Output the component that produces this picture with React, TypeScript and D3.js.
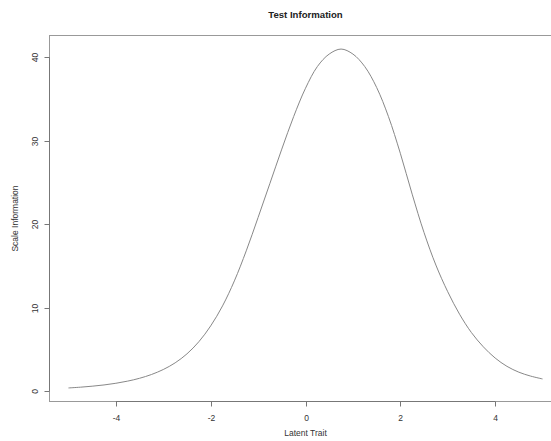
import * as d3 from "d3";

// latent trait grid and test information
const theta = [
  -5, -4.75, -4.5, -4.25, -4, -3.75, -3.5, -3.25, -3, -2.75, -2.5, -2.25, -2,
  -1.75, -1.5, -1.25, -1, -0.75, -0.5, -0.25, 0, 0.25, 0.5, 0.75, 1, 1.25, 1.5,
  1.75, 2, 2.25, 2.5, 2.75, 3, 3.25, 3.5, 3.75, 4, 4.25, 4.5, 4.75, 5,
];
const info = [
  0.36, 0.45, 0.57, 0.72, 0.92, 1.18, 1.52, 1.97, 2.57, 3.37, 4.45, 5.9, 7.8,
  10.2, 13.2, 16.8, 20.8, 24.9, 29.0, 32.9, 36.3, 38.9, 40.4, 41.0, 40.4, 38.9,
  36.4, 32.9, 28.5, 23.6, 19.0, 15.1, 11.9, 9.2, 7.0, 5.3, 3.95, 2.95, 2.25,
  1.78, 1.44,
];
const xTicks = [-4, -2, 0, 2, 4];
const yTicks = [0, 10, 20, 30, 40];

export default function App() {
  const width = 551;
  const height = 441;
  const left = 49.5, right = 561.5, top = 35.5, bottom = 401.5;
  const font = "'Liberation Sans', Arial, Helvetica, sans-serif";

  // R style 4% padding on both axes
  const [x0, x1] = d3.extent(theta) as [number, number];
  const [y0, y1] = d3.extent(info) as [number, number];
  const px = (x1 - x0) * 0.04;
  const py = (y1 - y0) * 0.04;
  const x = d3.scaleLinear([x0 - px, x1 + px], [left, right]);
  const y = d3.scaleLinear([y0 - py, y1 + py], [bottom, top]);

  const line = d3
    .line<number>()
    .x((_d, i) => x(theta[i]))
    .y((d) => y(d))
    .curve(d3.curveCatmullRom);

  return (
    <svg
      width={width}
      height={height}
      style={{ position: "absolute", left: 0, top: 0, background: "white" }}
      fontFamily={font}
    >
      <rect x={left} y={top} width={right - left} height={bottom - top} fill="none" stroke="#999" />
      <path d={line(info) ?? ""} fill="none" stroke="#888" strokeWidth={1} />

      {/* x axis */}
      <line x1={x(xTicks[0])} x2={x(xTicks[xTicks.length - 1])} y1={bottom} y2={bottom} stroke="#777" />
      {xTicks.map((t) => (
        <g key={t} transform={`translate(${Math.round(x(t)) + 0.5},${bottom})`}>
          <line y2={5} stroke="#777" />
          <text y={19} textAnchor="middle" fontSize={8.5} fill="#333">
            {t}
          </text>
        </g>
      ))}

      {/* y axis */}
      <line x1={left} x2={left} y1={y(yTicks[0])} y2={y(yTicks[yTicks.length - 1])} stroke="#777" />
      {yTicks.map((t) => (
        <g key={t} transform={`translate(${left},${Math.round(y(t)) + 0.5})`}>
          <line x2={-5} stroke="#777" />
          <text transform="translate(-12,0) rotate(-90)" textAnchor="middle" fontSize={8.5} fill="#333">
            {t}
          </text>
        </g>
      ))}

      <text x={(left + right) / 2} y={18} textAnchor="middle" fontSize={9.6} fontWeight="bold" fill="#222">
        Test Information
      </text>
      <text x={(left + right) / 2} y={436} textAnchor="middle" fontSize={8.5} fill="#333">
        Latent Trait
      </text>
      <text
        transform={`translate(18,${(top + bottom) / 2}) rotate(-90)`}
        textAnchor="middle"
        fontSize={8.5}
        fill="#333"
      >
        Scale Information
      </text>
    </svg>
  );
}
